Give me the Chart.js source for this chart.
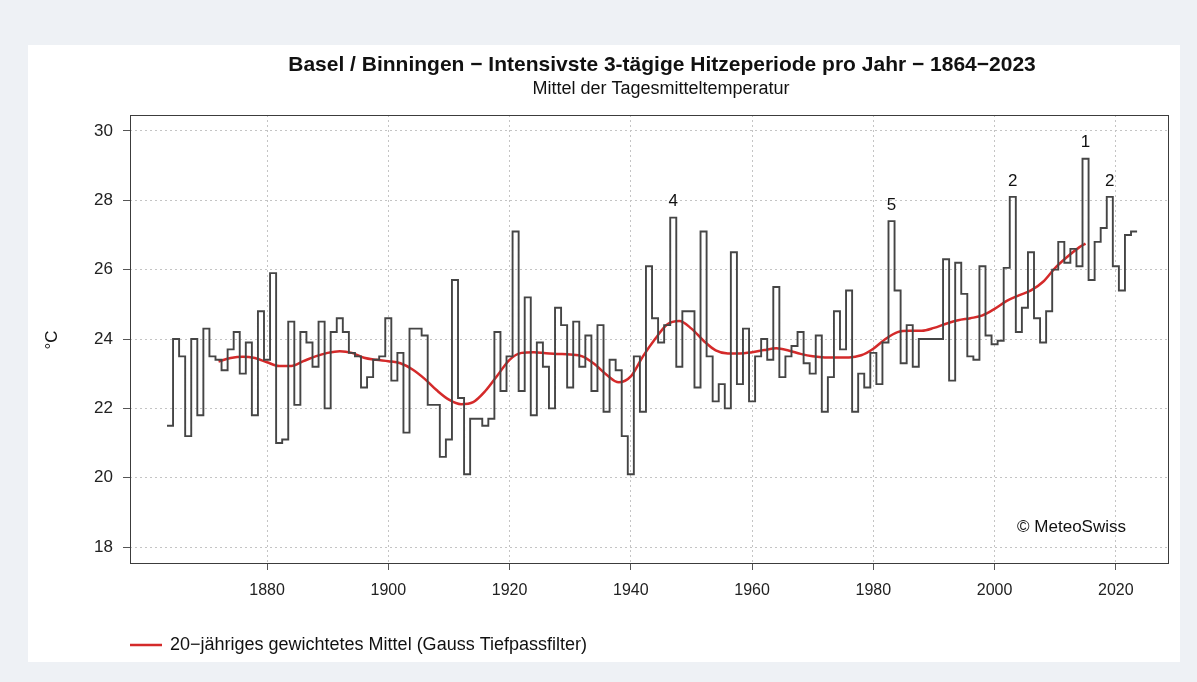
<!DOCTYPE html>
<html lang="de">
<head>
<meta charset="UTF-8">
<title>Basel / Binningen - Hitzeperiode</title>
<script src="https://cdn.jsdelivr.net/npm/chart.js@4"></script>
<style>
  * { margin: 0; padding: 0; box-sizing: border-box; }
  html, body { width: 1197px; height: 682px; overflow: hidden; background: #eef1f5; }
  .panel { position: absolute; left: 28px; top: 45px; width: 1152px; height: 617px; background: #fff; }
  #chart { position: absolute; left: 0; top: 0; }
</style>
</head>
<body>
<div class="panel"></div>
<canvas id="chart" width="1197" height="682"></canvas>
<script>
// Mittel der Tagesmitteltemperatur der heissesten 3 Tage, ab 1864
const firstYear = 1864;
const tempValues = [
  21.5, 24.0, 23.5, 21.2, 24.0, 21.8, 24.3, 23.5, 23.4, 23.1,   // 1864-1873
  23.7, 24.2, 23.0, 23.9, 21.8, 24.8, 23.4, 25.9, 21.0, 21.1,   // 1874-1883
  24.5, 22.1, 24.2, 23.9, 23.2, 24.5, 22.0, 24.2, 24.6, 24.2,   // 1884-1893
  23.6, 23.5, 22.6, 22.9, 23.4, 23.5, 24.6, 22.8, 23.6, 21.3,   // 1894-1903
  24.3, 24.3, 24.1, 22.1, 22.1, 20.6, 21.1, 25.7, 22.3, 20.1,   // 1904-1913
  21.7, 21.7, 21.5, 21.7, 24.2, 22.5, 23.5, 27.1, 22.5, 25.2,   // 1914-1923
  21.8, 23.9, 23.2, 22.0, 24.9, 24.4, 22.6, 24.5, 23.2, 24.1,   // 1924-1933
  22.5, 24.4, 21.9, 23.4, 23.1, 21.2, 20.1, 23.5, 21.9, 26.1,   // 1934-1943
  24.6, 23.9, 24.4, 27.5, 23.2, 24.8, 24.8, 22.6, 27.1, 23.5,   // 1944-1953
  22.2, 22.7, 22.0, 26.5, 22.7, 24.3, 22.2, 23.5, 24.0, 23.4,   // 1954-1963
  25.5, 22.9, 23.5, 23.8, 24.2, 23.3, 23.0, 24.1, 21.9, 22.9,   // 1964-1973
  24.8, 23.7, 25.4, 21.9, 23.0, 22.6, 23.6, 22.7, 23.9, 27.4,   // 1974-1983
  25.4, 23.3, 24.4, 23.2, 24.0, 24.0, 24.0, 24.0, 26.3, 22.8,   // 1984-1993
  26.2, 25.3, 23.5, 23.4, 26.1, 24.1, 23.85, 23.95, 26.05, 28.1, // 1994-2003
  24.2, 24.9, 26.5, 24.6, 23.9, 24.8, 26.0, 26.8, 26.2, 26.6,   // 2004-2013
  26.1, 29.2, 25.7, 26.8, 27.2, 28.1, 26.1, 25.4, 27.0, 27.1    // 2014-2023
];
const years = tempValues.map((_, i) => firstYear + i);

// 20-jaehriges gewichtetes Mittel
const smoothYears = [
  1872, 1874, 1876, 1878, 1880, 1882, 1884, 1886, 1888, 1890,
  1892, 1894, 1896, 1898, 1900, 1902, 1904, 1906, 1908, 1910,
  1912, 1914, 1916, 1918, 1920, 1922, 1924, 1926, 1928, 1930,
  1932, 1934, 1936, 1938, 1940, 1942, 1944, 1946, 1948, 1950,
  1952, 1954, 1956, 1958, 1960, 1962, 1964, 1966, 1968, 1970,
  1972, 1974, 1976, 1978, 1980, 1982, 1984, 1986, 1988, 1990,
  1992, 1994, 1996, 1998, 2000, 2002, 2004, 2006, 2008, 2010,
  2012, 2014, 2015
];
const smoothValues = [
  23.35, 23.45, 23.49, 23.45, 23.33, 23.22, 23.22, 23.36, 23.50, 23.60,
  23.65, 23.60, 23.46, 23.40, 23.36, 23.30, 23.12, 22.85, 22.52, 22.25,
  22.12, 22.18, 22.50, 22.95, 23.40, 23.60, 23.62, 23.59, 23.57, 23.55,
  23.50, 23.28, 22.97, 22.75, 22.92, 23.50, 24.00, 24.42, 24.52, 24.30,
  23.95, 23.67, 23.58, 23.58, 23.62, 23.68, 23.73, 23.67, 23.57, 23.50,
  23.47, 23.47, 23.47, 23.53, 23.72, 24.00, 24.20, 24.24, 24.24, 24.32,
  24.44, 24.54, 24.60, 24.68, 24.87, 25.10, 25.26, 25.40, 25.65, 26.05,
  26.37, 26.65, 26.75
];

// Rangliste der heissesten Perioden
const rankYears = [2015, 2003, 2019, 1947, 1983];
const rankLabels = ['1', '2', '2', '4', '5'];

const xTicks = [1880, 1900, 1920, 1940, 1960, 1980, 2000, 2020];
const yTicks = [18, 20, 22, 24, 26, 28, 30];

const titleText = 'Basel / Binningen \u2212 Intensivste 3-t\u00e4gige Hitzeperiode pro Jahr \u2212 1864\u22122023';
const subtitleText = 'Mittel der Tagesmitteltemperatur';
const legendText = '20\u2212j\u00e4hriges gewichtetes Mittel (Gauss Tiefpassfilter)';

const FONT = '"Liberation Sans", Arial, Helvetica, sans-serif';
const RED = '#d42a2a';

// each year's value is held from year-0.5 to year+0.5
const stepPoints = years.map((yr, i) => ({ x: yr - 0.5, y: tempValues[i] }));
stepPoints.push({ x: years[years.length - 1] + 0.5, y: tempValues[tempValues.length - 1] });

const smoothPoints = smoothYears.map((yr, i) => ({ x: yr, y: smoothValues[i] }));

const extras = {
  id: 'extras',
  afterDraw(chart) {
    const { ctx, chartArea: a, scales: { x, y } } = chart;
    ctx.save();

    // frame
    ctx.strokeStyle = '#3c3c3c';
    ctx.lineWidth = 1;
    ctx.strokeRect(Math.round(a.left) + 0.5, Math.round(a.top) + 0.5,
      Math.round(a.right - a.left), Math.round(a.bottom - a.top));

    // titles
    ctx.fillStyle = '#111';
    ctx.textAlign = 'center';
    ctx.textBaseline = 'middle';
    ctx.font = 'bold 21px ' + FONT;
    ctx.fillText(titleText, 662, 65);
    ctx.font = '18px ' + FONT;
    ctx.fillText(subtitleText, 661, 89);

    // rank numbers above the peaks
    ctx.font = '17px ' + FONT;
    rankYears.forEach((yr, i) => {
      const v = tempValues[years.indexOf(yr)];
      ctx.fillText(rankLabels[i], x.getPixelForValue(yr), y.getPixelForValue(v) - 16);
    });

    // copyright
    ctx.textAlign = 'right';
    ctx.font = '17px ' + FONT;
    ctx.fillText('\u00a9 MeteoSwiss', 1126, 527);

    // y axis title
    ctx.save();
    ctx.translate(52, 340);
    ctx.rotate(-Math.PI / 2);
    ctx.textAlign = 'center';
    ctx.font = '17px ' + FONT;
    ctx.fillText('\u00b0C', 0, 0);
    ctx.restore();

    // legend
    ctx.strokeStyle = RED;
    ctx.lineWidth = 2.5;
    ctx.beginPath();
    ctx.moveTo(130, 645);
    ctx.lineTo(162, 645);
    ctx.stroke();
    ctx.textAlign = 'left';
    ctx.font = '18px ' + FONT;
    ctx.fillText(legendText, 170, 645);

    ctx.restore();
  }
};

new Chart(document.getElementById('chart'), {
  type: 'line',
  data: {
    datasets: [
      {
        label: 'Jahreswert',
        data: stepPoints,
        stepped: 'before',
        borderColor: '#454545',
        borderWidth: 1.9,
        pointRadius: 0,
        fill: false
      },
      {
        label: legendText,
        data: smoothPoints,
        borderColor: RED,
        borderWidth: 2.5,
        pointRadius: 0,
        cubicInterpolationMode: 'monotone',
        fill: false
      }
    ]
  },
  options: {
    responsive: false,
    animation: false,
    layout: { padding: { left: 0, top: 115, right: 29, bottom: 0 } },
    plugins: {
      legend: { display: false },
      title: { display: false },
      tooltip: { enabled: false }
    },
    scales: {
      x: {
        type: 'linear',
        min: 1857.4,
        max: 2028.6,
        afterBuildTicks: s => { s.ticks = xTicks.map(v => ({ value: v })); },
        afterFit: s => { s.height = 119; },
        grid: { color: '#c4c4c4', lineWidth: 1, tickLength: 7, tickColor: '#555' },
        border: { display: false, dash: [2, 3] },
        ticks: {
          color: '#222',
          font: { family: FONT, size: 16 },
          padding: 11,
          maxRotation: 0,
          autoSkip: false,
          callback: v => String(v)
        }
      },
      y: {
        type: 'linear',
        min: 17.54,
        max: 30.46,
        afterBuildTicks: s => { s.ticks = yTicks.map(v => ({ value: v })); },
        afterFit: s => { s.width = 130; },
        grid: { color: '#c4c4c4', lineWidth: 1, tickLength: 7, tickColor: '#555' },
        border: { display: false, dash: [2, 3] },
        ticks: {
          color: '#222',
          font: { family: FONT, size: 17 },
          padding: 10,
          callback: v => String(v)
        }
      }
    }
  },
  plugins: [extras]
});
</script>
</body>
</html>
